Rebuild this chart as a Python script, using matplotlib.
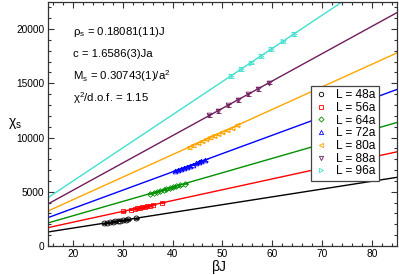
import numpy as np
import matplotlib
matplotlib.use('Agg')
import matplotlib.pyplot as plt

plt.rcParams['font.family'] = ['Liberation Sans', 'DejaVu Sans']
plt.rcParams['mathtext.fontset'] = 'custom'
plt.rcParams['mathtext.rm'] = 'Liberation Sans'
plt.rcParams['mathtext.it'] = 'Liberation Sans'
plt.rcParams['mathtext.default'] = 'regular'

# system sizes
labels = ['L = 48a', 'L = 56a', 'L = 64a', 'L = 72a', 'L = 80a', 'L = 88a', 'L = 96a']

# beta*J values of the measured points
x48 = [26.2, 26.9, 27.5, 28.1, 28.5, 29.1, 29.5, 30.1, 30.6, 31.1, 32.6]
x56 = [30.1, 31.7, 32.4, 32.9, 33.4, 33.9, 34.4, 34.9, 35.4, 36.1, 37.9]
x64 = [35.4, 36.2, 36.9, 37.5, 38.2, 38.7, 39.4, 40.1, 40.7, 41.5, 42.4]
x72 = [40.4, 41.0, 41.6, 42.2, 42.8, 43.4, 44.0, 44.6, 45.2, 45.8, 46.6]
x80 = [43.2, 44.1, 45.0, 45.9, 46.8, 47.6, 48.4, 49.2, 50.0, 50.9, 51.9, 53.0]
x88 = [47.4, 49.1, 51.1, 53.1, 55.1, 57.1, 59.4]
x96 = [51.7, 53.7, 55.7, 57.7, 59.7, 62.1, 64.4]

# chi_s values
y48 = [2090, 2150, 2185, 2240, 2260, 2300, 2340, 2370, 2420, 2445, 2560]
y56 = [3200, 3355, 3430, 3475, 3530, 3575, 3630, 3675, 3730, 3795, 3980]
y64 = [4820, 4930, 5015, 5100, 5190, 5260, 5350, 5445, 5520, 5630, 5745]
y72 = [6900, 7000, 7105, 7200, 7310, 7405, 7510, 7605, 7710, 7815, 7945]
y80 = [9095, 9280, 9470, 9655, 9845, 10010, 10175, 10345, 10510, 10695, 10905, 11135]
y88 = [12040, 12465, 12970, 13475, 13980, 14485, 15065]
y96 = [15680, 16290, 16905, 17515, 18130, 18865, 19565]

# error bars
e48, e56, e64, e72, e80, e88, e96 = 40, 50, 60, 80, 110, 160, 170

# fitted lines: chi_s = slope * betaJ + intercept
slopes = [72.0, 99.9, 132.4, 168.9, 208.3, 252.1, 306.0]
intercepts = [210, 191, 134, 76, 95, 88, -140]

xs = [x48, x56, x64, x72, x80, x88, x96]
ys = [y48, y56, y64, y72, y80, y88, y96]
errs = [e48, e56, e64, e72, e80, e88, e96]
colors = ['black', 'red', '#009000', 'blue', '#ffa500', '#701c5c', '#40e0d0']
markers = ['o', 's', 'D', '^', '<', 'v', '>']
msizes = [3.6, 3.2, 2.9, 3.4, 3.4, 3.4, 3.4]

fig = plt.figure(figsize=(3.99, 2.75), dpi=100)
ax = fig.add_axes([0.120, 0.1055, 0.875, 0.8875])

xlim = (15, 85)
xfit = np.array(xlim)
for i in range(7):
    c = colors[i]
    ax.plot(xfit, slopes[i] * xfit + intercepts[i], color=c, lw=1.0, zorder=2)
    ax.errorbar(xs[i], ys[i], yerr=errs[i], fmt='none', ecolor=c,
                elinewidth=0.6, capsize=1.8, capthick=0.6, zorder=3)
    ax.plot(xs[i], ys[i], ls='none', marker=markers[i], mfc='none', mec=c,
            mew=0.6, ms=msizes[i], zorder=4, label=labels[i])

ax.set_xlim(*xlim)
ax.set_ylim(0, 22500)
ax.set_xticks([20, 30, 40, 50, 60, 70, 80])
ax.set_xticks(np.arange(16, 86, 2), minor=True)
ax.set_yticks([0, 5000, 10000, 15000, 20000])
ax.set_yticks(np.arange(0, 22501, 1000), minor=True)
ax.tick_params(which='both', direction='in', top=True, right=True,
               labelsize=7.3, width=0.8, colors='#333333', labelcolor='black',
               pad=2.5)
ax.tick_params(which='major', length=4)
ax.tick_params(which='minor', length=2)
for s in ax.spines.values():
    s.set_linewidth(0.9)
    s.set_color('#333333')

ax.set_xlabel(r'$\beta$J', fontsize=10)
ax.xaxis.set_label_coords(0.49, -0.05)
ax.set_ylabel(r'$\chi_s$', fontsize=10, rotation=0, ha='center', va='center')
ax.yaxis.set_label_coords(-0.095, 0.5)

txt = [r'$\rho_s$ = 0.18081(11)J',
       r'c = 1.6586(3)Ja',
       r'$M_s$ = 0.30743(1)/a$^2$',
       r'$\chi^2$/d.o.f. = 1.15']
for k, t in enumerate(txt):
    ax.text(0.072, 0.878 - k * 0.091, t, transform=ax.transAxes,
            fontsize=8.2, va='center', ha='left')

leg = ax.legend(loc='lower right', bbox_to_anchor=(0.948, 0.266),
                borderaxespad=0, fontsize=8.6, labelspacing=0.06,
                handlelength=1.1, handletextpad=0.7, borderpad=0.3,
                fancybox=False, framealpha=1, edgecolor='#444444',
                markerscale=0.9)
leg.get_frame().set_linewidth(0.9)

fig.savefig('out.png', dpi=100)
